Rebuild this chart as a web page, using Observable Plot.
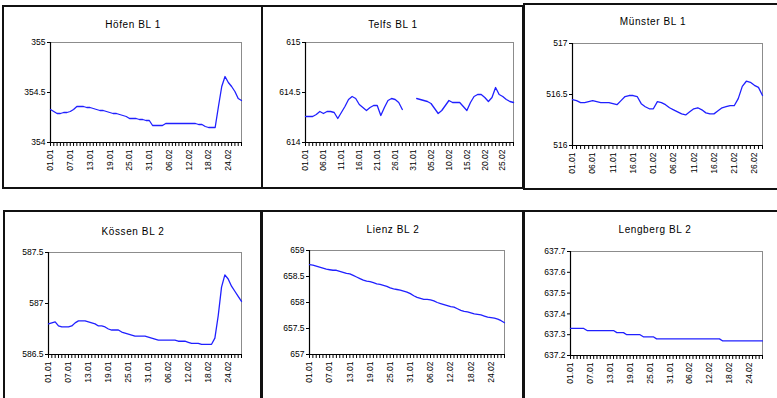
<!DOCTYPE html>
<html><head><meta charset="utf-8">
<script src="https://cdn.jsdelivr.net/npm/d3@7"></script>
<script src="https://cdn.jsdelivr.net/npm/@observablehq/plot@0.6"></script>
<style>
body{margin:0;background:#fff;}
#root{position:relative;width:777px;height:398px;overflow:hidden;background:#fff;font-family:"Liberation Sans",Arial,sans-serif;}
.panel{position:absolute;border:2px solid #111;box-sizing:border-box;}
.title{position:absolute;font-size:10px;line-height:12px;transform:translateX(-50%);white-space:nowrap;letter-spacing:0.6px;color:#000;}
</style></head><body><div id="root"></div>
<script>
// ---- categories ----
const dates59 = ["01.01","02.01","03.01","04.01","05.01","06.01","07.01","08.01","09.01","10.01","11.01","12.01","13.01","14.01","15.01","16.01","17.01","18.01","19.01","20.01","21.01","22.01","23.01","24.01","25.01","26.01","27.01","28.01","29.01","30.01","31.01","01.02","02.02","03.02","04.02","05.02","06.02","07.02","08.02","09.02","10.02","11.02","12.02","13.02","14.02","15.02","16.02","17.02","18.02","19.02","20.02","21.02","22.02","23.02","24.02","25.02","26.02","27.02","28.02"];
const datesMuenster = ["01.01","02.01","03.01","04.01","05.01","06.01","07.01","08.01","09.01","10.01","11.01","12.01","13.01","14.01","15.01","16.01","17.01","18.01","19.01","20.01","01.02","02.02","03.02","04.02","05.02","06.02","07.02","08.02","09.02","10.02","11.02","12.02","13.02","14.02","15.02","16.02","17.02","18.02","19.02","20.02","21.02","22.02","23.02","24.02","25.02","26.02","27.02","28.02"];

// ---- tick labels ----
const xTicks6 = ["01.01","07.01","13.01","19.01","25.01","31.01","06.02","12.02","18.02","24.02"];
const xTicksTelfs = ["01.01","06.01","11.01","16.01","21.01","26.01","31.01","05.02","10.02","15.02","20.02","25.02"];
const xTicksMuenster = ["01.01","06.01","11.01","16.01","01.02","06.02","11.02","16.02","21.02","26.02"];
const yTicksHoefen = [354, 354.5, 355];
const yTicksTelfs = [614, 614.5, 615];
const yTicksMuenster = [516, 516.5, 517];
const yTicksKoessen = [586.5, 587, 587.5];
const yTicksLienz = [657, 657.5, 658, 658.5, 659];
const yTicksLengberg = [637.2, 637.3, 637.4, 637.5, 637.6, 637.7];

// ---- series values ----
const hoefen = [354.33,354.31,354.29,354.29,354.30,354.30,354.31,354.33,354.36,354.36,354.36,354.35,354.35,354.34,354.33,354.32,354.32,354.31,354.30,354.29,354.29,354.28,354.27,354.26,354.24,354.24,354.24,354.23,354.23,354.22,354.22,354.17,354.17,354.17,354.17,354.19,354.19,354.19,354.19,354.19,354.19,354.19,354.19,354.19,354.19,354.18,354.18,354.16,354.15,354.15,354.15,354.36,354.56,354.66,354.60,354.56,354.51,354.44,354.42];
const telfs = [614.26,614.26,614.26,614.28,614.31,614.29,614.31,614.31,614.30,614.24,614.30,614.36,614.43,614.46,614.44,614.38,614.35,614.32,614.35,614.37,614.37,614.27,614.35,614.42,614.44,614.43,614.40,614.33,null,null,null,614.44,614.43,614.42,614.41,614.39,614.34,614.29,614.32,614.37,614.42,614.40,614.40,614.40,614.36,614.32,614.40,614.46,614.48,614.48,614.45,614.41,614.45,614.55,614.48,614.46,614.43,614.41,614.40];
const muenster = [516.45,516.44,516.42,516.42,516.43,516.44,516.43,516.42,516.42,516.42,516.41,516.40,516.44,516.48,516.49,516.49,516.48,516.41,516.38,516.36,516.36,516.43,516.42,516.40,516.37,516.35,516.33,516.31,516.30,516.33,516.36,516.37,516.35,516.32,516.31,516.31,516.34,516.37,516.38,516.39,516.39,516.46,516.58,516.63,516.62,516.59,516.57,516.49];
const koessen = [586.80,586.81,586.82,586.78,586.77,586.77,586.77,586.78,586.81,586.83,586.83,586.83,586.82,586.81,586.80,586.78,586.78,586.77,586.75,586.74,586.74,586.74,586.72,586.71,586.70,586.69,586.68,586.68,586.68,586.68,586.67,586.66,586.65,586.64,586.64,586.64,586.64,586.64,586.64,586.63,586.63,586.63,586.62,586.61,586.61,586.61,586.60,586.60,586.60,586.60,586.66,586.88,587.16,587.28,587.24,587.17,587.12,587.07,587.02];
const lienz = [658.73,658.72,658.70,658.68,658.66,658.64,658.63,658.62,658.62,658.60,658.58,658.56,658.55,658.52,658.49,658.46,658.43,658.41,658.40,658.38,658.36,658.35,658.33,658.31,658.28,658.26,658.25,658.24,658.22,658.20,658.17,658.13,658.10,658.08,658.06,658.06,658.05,658.03,658.00,657.98,657.96,657.94,657.92,657.91,657.88,657.85,657.83,657.82,657.80,657.78,657.77,657.76,657.74,657.72,657.71,657.70,657.68,657.65,657.61];
const lengberg = [637.33,637.33,637.33,637.33,637.33,637.32,637.32,637.32,637.32,637.32,637.32,637.32,637.32,637.32,637.31,637.31,637.31,637.30,637.30,637.30,637.30,637.30,637.29,637.29,637.29,637.29,637.28,637.28,637.28,637.28,637.28,637.28,637.28,637.28,637.28,637.28,637.28,637.28,637.28,637.28,637.28,637.28,637.28,637.28,637.28,637.28,637.27,637.27,637.27,637.27,637.27,637.27,637.27,637.27,637.27,637.27,637.27,637.27,637.27];

const titles = ["Höfen BL 1","Telfs BL 1","Münster BL 1","Kössen BL 2","Lienz BL 2","Lengberg BL 2"];

const panels = [
  {title:titles[0], dates:dates59, values:hoefen, xTicks:xTicks6, yTicks:yTicksHoefen,
   box:[2,5,261,184], plot:[50,42,241,142], titlePos:[133,25]},
  {title:titles[1], dates:dates59, values:telfs, xTicks:xTicksTelfs, yTicks:yTicksTelfs,
   box:[261,5,263,184], plot:[305,42,513,142], titlePos:[393,25]},
  {title:titles[2], dates:datesMuenster, values:muenster, xTicks:xTicksMuenster, yTicks:yTicksMuenster,
   box:[523,3,257,187], plot:[572,43,762,145], titlePos:[653,22]},
  {title:titles[3], dates:dates59, values:koessen, xTicks:xTicks6, yTicks:yTicksKoessen,
   box:[3,210,260,192], plot:[48,252,241,354], titlePos:[133,232]},
  {title:titles[4], dates:dates59, values:lienz, xTicks:xTicks6, yTicks:yTicksLienz,
   box:[260,210,264,192], plot:[309,250,504,354], titlePos:[393,230]},
  {title:titles[5], dates:dates59, values:lengberg, xTicks:xTicks6, yTicks:yTicksLengberg,
   box:[523,210,257,192], plot:[570,251,762,355], titlePos:[655,230]}
];

const root = document.getElementById("root");

function drawPanel(p){
  const box = document.createElement("div");
  box.className = "panel";
  Object.assign(box.style, {left:p.box[0]+"px", top:p.box[1]+"px", width:p.box[2]+"px", height:p.box[3]+"px"});
  root.appendChild(box);

  const t = document.createElement("div");
  t.className = "title";
  t.textContent = p.title;
  Object.assign(t.style, {left:p.titlePos[0]+"px", top:(p.titlePos[1]-6)+"px"});
  root.appendChild(t);

  const mL=46, mR=6, mT=6, mB=46;
  const w = p.plot[2]-p.plot[0], h = p.plot[3]-p.plot[1];
  const data = p.dates.map((d,i)=>({date:d, value:p.values[i]}));
  const labelSet = new Set(p.xTicks);
  const yDomain = [p.yTicks[0], p.yTicks[p.yTicks.length-1]];
  const chart = Plot.plot({
    width: w+mL+mR, height: h+mT+mB,
    marginLeft:mL, marginRight:mR, marginTop:mT, marginBottom:mB,
    style:{background:"transparent", fontFamily:"'Liberation Sans', Arial, sans-serif", fontSize:"8.5px", color:"#000", overflow:"visible"},
    x:{type:"point", domain:p.dates, padding:0, round:false},
    y:{domain:yDomain},
    marks:[
      Plot.frame({stroke:"#8c8c8c"}),
      Plot.axisX({ticks:p.dates, tickSize:4, tickPadding:3, tickRotate:-90, tickFormat:d=>labelSet.has(d)?d:"", label:null}),
      Plot.axisY({ticks:p.yTicks, tickSize:3, tickPadding:2, tickFormat:d=>String(d), label:null}),
      Plot.ruleX([p.dates[0]], {stroke:"#000", strokeWidth:1.2}),
      Plot.ruleY([yDomain[0]], {stroke:"#000", strokeWidth:1.2}),
      Plot.line(data, {x:"date", y:"value", stroke:"#2020ff", strokeWidth:1.3})
    ]
  });
  Object.assign(chart.style, {position:"absolute", left:(p.plot[0]-mL)+"px", top:(p.plot[1]-mT)+"px"});
  root.appendChild(chart);
}
panels.forEach(drawPanel);
</script>
</body></html>
